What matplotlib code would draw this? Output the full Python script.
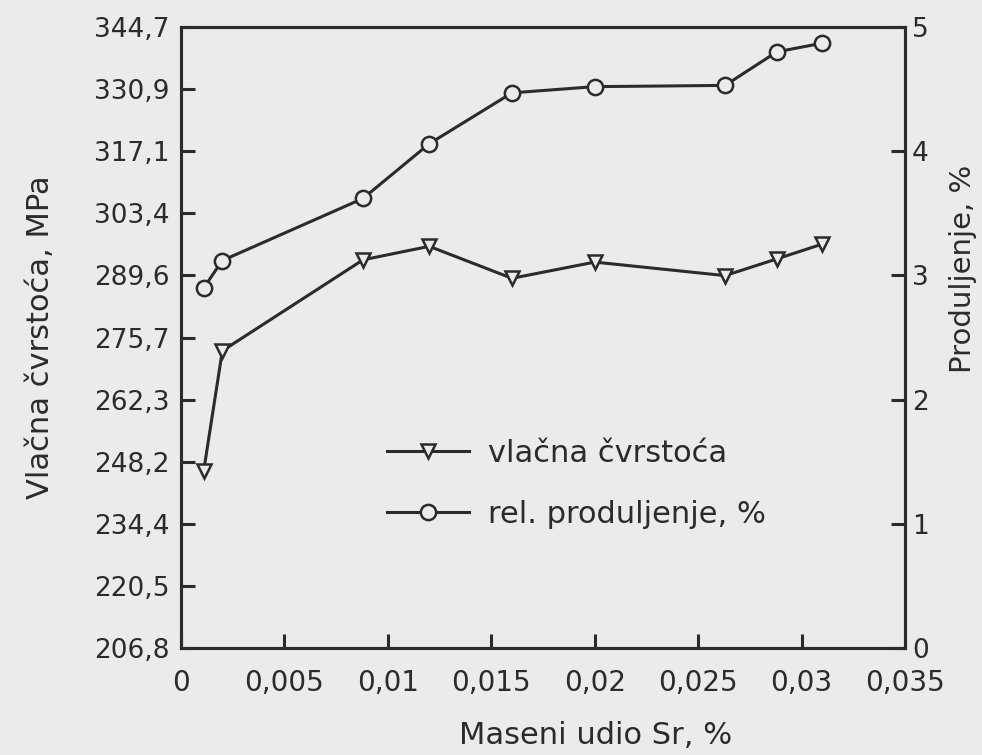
import numpy as np
import matplotlib
matplotlib.use("Agg")
import matplotlib.pyplot as plt

# maseni udio Sr, %
sr = [0.0011, 0.002, 0.0088, 0.012, 0.016, 0.02, 0.0263, 0.0288, 0.031]
# vlacna cvrstoca, MPa
rm = [246.2, 272.8, 293.0, 296.0, 288.9, 292.5, 289.5, 293.2, 296.5]
# rel. produljenje, %
a5 = [2.90, 3.12, 3.62, 4.06, 4.47, 4.52, 4.53, 4.80, 4.87]

x_ticks = [0, 0.005, 0.01, 0.015, 0.02, 0.025, 0.03, 0.035]
x_labels = ['0', '0,005', '0,01', '0,015', '0,02', '0,025', '0,03', '0,035']
left_labels = ['206,8', '220,5', '234,4', '248,2', '262,3', '275,7',
               '289,6', '303,4', '317,1', '330,9', '344,7']
right_ticks = [0, 1, 2, 3, 4, 5]

bg = '#ebebeb'
ink = '#2b2b2b'
plt.rcParams['font.family'] = ['DejaVu Sans']

fig = plt.figure(figsize=(9.82, 7.55), dpi=100, facecolor=bg)
ax = fig.add_axes([0.1843, 0.1417, 0.7373, 0.8225])
ax.set_facecolor(bg)
ax2 = ax.twinx()

l1, = ax.plot(sr, rm, color=ink, lw=2.2, marker='v', ms=10,
              mfc=bg, mec=ink, mew=1.8, label='vlačna čvrstoća')
l2, = ax2.plot(sr, a5, color=ink, lw=2.2, marker='o', ms=11,
               mfc=bg, mec=ink, mew=1.8, label='rel. produljenje, %')

ax.set_xlim(0, 0.035)
ax.set_ylim(206.8, 344.7)
ax2.set_ylim(0, 5)

ax.set_xticks(x_ticks)
ax.set_xticklabels(x_labels)
ax.set_yticks(np.linspace(206.8, 344.7, len(left_labels)))
ax.set_yticklabels(left_labels)
ax2.set_yticks(right_ticks)
ax2.set_yticklabels([str(t) for t in right_ticks])

for a in (ax, ax2):
    for s in a.spines.values():
        s.set_linewidth(2.2)
        s.set_color(ink)
    a.tick_params(direction='in', length=10, width=2.2, color=ink,
                  labelsize=19, labelcolor=ink)
ax.tick_params(axis='x', pad=15, labelsize=20)
ax.tick_params(axis='y', pad=8)
ax2.tick_params(axis='y', pad=5)

ax.set_xlabel('Maseni udio Sr, %', fontsize=22, color=ink)
ax.xaxis.set_label_coords(0.572, -0.118)
ax.set_ylabel('Vlačna čvrstoća, MPa', fontsize=22, color=ink)
ax.yaxis.set_label_coords(-0.174, 0.5)
ax2.set_ylabel('Produljenje, %', fontsize=21, color=ink)
ax2.yaxis.set_label_coords(1.061, 0.61)

fig.legend(handles=[l1, l2], loc='center left',
           bbox_to_anchor=(0.394, 0.359), frameon=False, fontsize=22,
           handlelength=2.7, handletextpad=0.6, labelspacing=1.05,
           borderpad=0, borderaxespad=0, labelcolor=ink)

fig.savefig('out.png', dpi=100, facecolor=bg)
